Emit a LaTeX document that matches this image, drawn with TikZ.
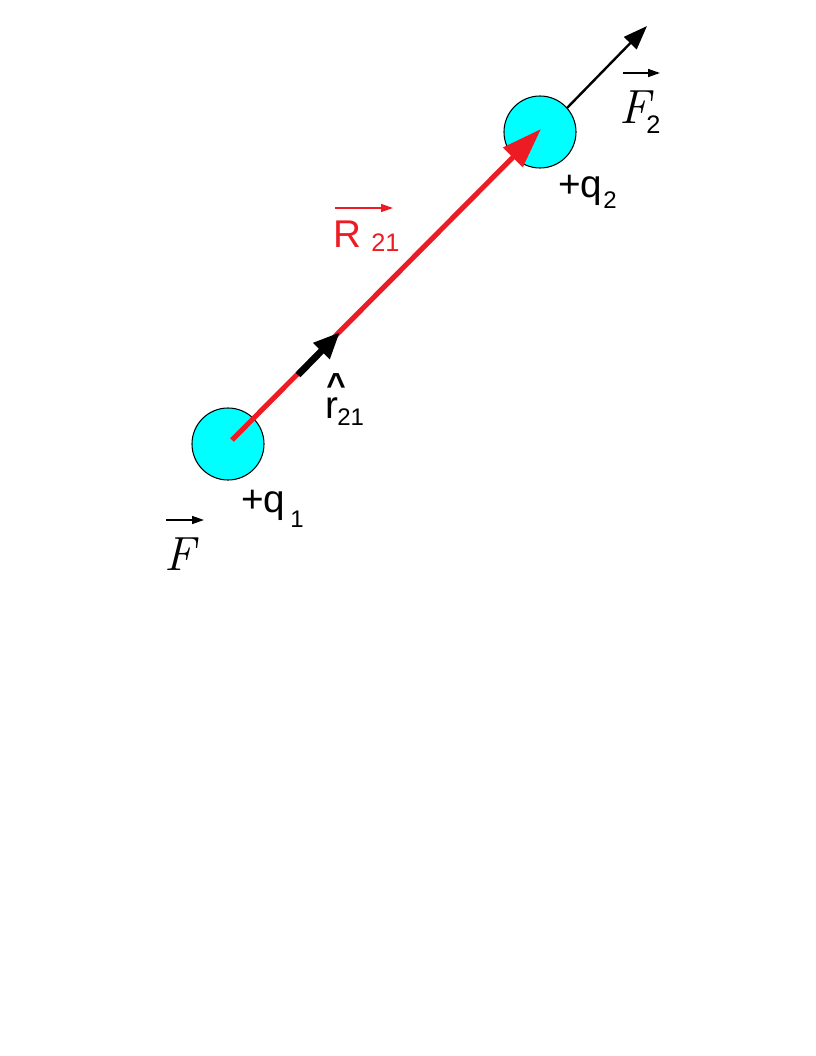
\documentclass[tikz,border=0pt]{standalone}
\usepackage{fontspec}
\setsansfont{Liberation Sans}
\usetikzlibrary{arrows.meta}
\definecolor{redv}{RGB}{237,28,36}
\definecolor{ballc}{RGB}{0,255,255}
\tikzset{
  ball/.style={circle, draw=black, line width=0.8pt, fill=ballc, minimum size=54pt, inner sep=0pt},
  lab/.style={anchor=base west, inner sep=0pt, font=\sffamily\fontsize{29}{32}\selectfont},
  sub/.style={anchor=base west, inner sep=0pt, font=\sffamily\fontsize{18}{22}\selectfont},
  mlab/.style={anchor=base west, inner sep=0pt, font=\rmfamily\itshape\fontsize{36}{40}\selectfont},
  redline/.style={draw=redv, line width=3.8pt, -{Triangle[length=30pt,width=20pt]}},
  unitarrow/.style={draw=black, line width=5pt, -{Triangle[length=20pt,width=16pt]}},
  forcearrow/.style={draw=black, line width=1.8pt, -{Triangle[length=18pt,width=13pt]}},
  overarrow/.style={line width=1.1pt, -{Triangle[length=9pt,width=6pt]}}
}
\begin{document}
\begin{tikzpicture}[x=0.75pt,y=-0.75pt]
\useasboundingbox (0,0) rectangle (816,1056);
% charges
\node[ball] (q1) at (228,444) {};
\node[ball] (q2) at (540,132) {};
\coordinate (c1) at (232,440);
\coordinate (tipR) at (541,129);
\coordinate (rs) at (298,375);
\coordinate (re) at (340,332);
\coordinate (fs) at (567,108);
\coordinate (fe) at (647,26);
% vectors
\draw[redline] (c1) -- (tipR);
\draw[unitarrow] (rs) -- (re);
\draw[forcearrow] (fs) -- (fe);
% labels +q2
\node[lab] (lq2) at (558,197) {+q};
\node[sub] (lq2s) at (603,208) {2};
% +q1
\node[lab] (lq1) at (241,512) {+q};
\node[sub] (lq1s) at (290,527) {1};
% r hat
\node[lab] (rr) at (325.5,418) {r};
\node[anchor=base west, inner sep=0pt, font=\sffamily\bfseries\fontsize{25}{28}\selectfont] (rhat) at (326,396) {\char"5E};
\node[sub] (rsub) at (337,425) {21};
% R21
\node[lab, text=redv] (RR) at (333,247) {R};
\node[sub, font=\sffamily\fontsize{19}{22}\selectfont, text=redv] (RRs) at (371,251) {21};
\coordinate (Ra) at (335,208);
\coordinate (Rb) at (393,208);
\draw[overarrow, draw=redv, fill=redv] (Ra) -- (Rb);
% F
\node[mlab] (F1) at (164,570) {F};
\coordinate (Fa) at (166,520);
\coordinate (Fb) at (204,520);
\draw[overarrow] (Fa) -- (Fb);
% F2
\node[mlab] (F2) at (619,123) {F};
\node[sub, font=\sffamily\fontsize{19}{22}\selectfont] (F2s) at (646,133) {2};
\coordinate (F2a) at (623,73);
\coordinate (F2b) at (660,73);
\draw[overarrow] (F2a) -- (F2b);
\end{tikzpicture}
\end{document}
